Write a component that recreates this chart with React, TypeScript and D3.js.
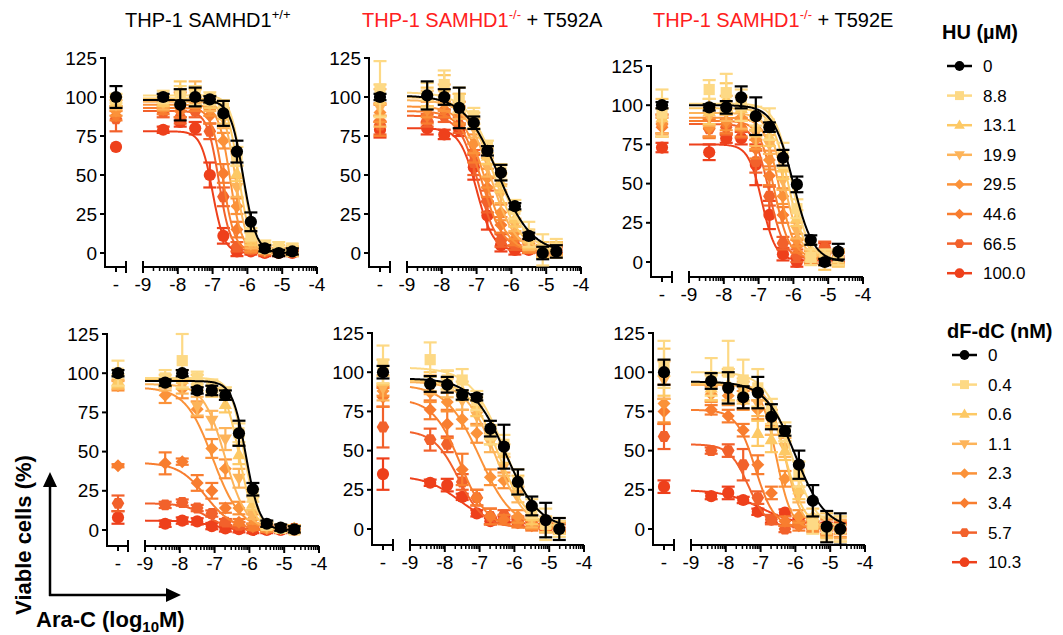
import React from "react";
import * as d3 from "d3";

const FONT = "'Liberation Sans', Arial, Helvetica, sans-serif";

// ---------- shared data ----------
const LOG_CONC = [-8.42, -7.93, -7.5, -7.08, -6.69, -6.3, -5.9, -5.5, -5.1, -4.71];
const X_TICKS = [-9, -8, -7, -6, -5, -4];
const Y_TICKS = [0, 25, 50, 75, 100, 125];
const HU_LABELS = ["0", "8.8", "13.1", "19.9", "29.5", "44.6", "66.5", "100.0"];
const DFDC_LABELS = ["0", "0.4", "0.6", "1.1", "2.3", "3.4", "5.7", "10.3"];
const SERIES_COLORS = ["#000000", "#FDD985", "#FDC965", "#FDB45A", "#FB9239", "#F87D2F", "#F2612B", "#EE401B"];
const SERIES_SHAPES = ["circle", "square", "triangle", "triangleDown", "diamond", "diamond", "hexagon", "circle"];

// ---------- panel 1: THP-1 SAMHD1+/+, HU ----------
const P1_MEAN = [
  [100, 95, 100, 98.5, 89.5, 65, 20, 3, 0, 1],
  [100, 102, 101, 99, 93, 62, 12, 4, 4, 3],
  [97, 104, 100, 97, 88, 51, 9, 3, 2, 1],
  [96, 100, 102, 95, 86, 42, 6, 2, 1, 2],
  [94, 98, 97, 92, 72, 30, 4, 2, 1, 1],
  [92, 91, 95, 88, 51, 15, 3, 1, 1, 1],
  [90, 87, 91, 78, 36, 4, 2, 1, 1, 1],
  [79, 84, 80, 50, 11, 1, 1, 0, 0, 0],
];
const P1_ERR = [
  [2, 10, 6, 2, 8, 7, 6, 2, 2, 2],
  [4, 5, 6, 4, 5, 6, 4, 4, 3, 3],
  [3, 6, 5, 4, 5, 5, 4, 3, 3, 3],
  [4, 5, 8, 4, 6, 6, 3, 2, 2, 2],
  [3, 5, 4, 4, 5, 5, 3, 2, 2, 2],
  [3, 4, 4, 5, 6, 5, 3, 2, 2, 2],
  [3, 4, 4, 5, 6, 3, 2, 2, 2, 2],
  [2, 3, 4, 8, 5, 3, 2, 2, 2, 2],
];
const P1_CTRL = [100, 99, 97, 95, 91, 88, 86, 68];
const P1_CTRL_ERR = [7, 3, 3, 3, 3, 3, 8, 0];
const P1_FIT = [
  [98, 0, -6.12, 2.3], [101, 2, -6.15, 2.6], [99, 1, -6.25, 2.6], [97, 1, -6.35, 2.6],
  [95, 1, -6.5, 2.6], [93, 1, -6.7, 2.6], [91, 1, -6.82, 2.6], [78, 0, -7.0, 2.6],
];

// ---------- panel 2: SAMHD1-/- + T592A, HU ----------
const P2_MEAN = [
  [101, 100, 93, 83.5, 65.5, 51.5, 30, 11, 0, 1],
  [101, 108, 98, 88, 68, 52, 28, 12, 2, 3],
  [100, 106, 96, 85, 62, 45, 22, 9, 2, 2],
  [99, 102, 94, 80, 55, 38, 18, 7, 1, 2],
  [92, 96, 90, 70, 48, 26, 13, 5, 1, 2],
  [88, 92, 88, 64, 42, 18, 9, 4, 2, 3],
  [85, 88, 82, 58, 33, 8, 5, 3, 2, 2],
  [80, 76, 79, 55, 24, 5, 2, 2, 2, 2],
];
const P2_ERR = [
  [9, 5, 13, 4, 3, 5, 2, 2, 4, 4],
  [8, 9, 8, 5, 4, 5, 6, 8, 10, 6],
  [6, 8, 6, 5, 5, 6, 5, 6, 5, 5],
  [5, 6, 8, 6, 6, 6, 4, 5, 4, 4],
  [5, 5, 7, 6, 6, 5, 4, 4, 3, 3],
  [5, 5, 6, 6, 6, 5, 4, 4, 3, 4],
  [4, 4, 5, 8, 7, 4, 3, 3, 3, 3],
  [4, 3, 4, 8, 9, 4, 3, 2, 2, 2],
];
const P2_CTRL = [100, 105, 98, 93, 90, 85, 82, 79];
const P2_CTRL_ERR = [2, 18, 10, 12, 6, 10, 6, 5];
const P2_FIT = [
  [101, 0, -6.38, 0.9], [103, 0, -6.4, 1.0], [100, 0, -6.5, 1.1], [98, 0, -6.6, 1.2],
  [94, 0, -6.75, 1.3], [91, 1, -6.85, 1.4], [88, 1, -6.95, 1.6], [80, 1, -7.0, 1.8],
];

// ---------- panel 3: SAMHD1-/- + T592E, HU ----------
const P3_MEAN = [
  [98.6, 98.6, 105, 93, 86, 66.5, 49.5, 14, 0, 6.6],
  [110, 108, 100, 93, 88, 68, 34, 3, 3, 3],
  [96, 104, 98, 86, 80, 60, 28, 6, 1, 2],
  [93, 98, 95, 82, 75, 52, 20, 4, 2, 3],
  [86, 90, 92, 78, 65, 42, 14, 3, 2, 3],
  [85, 88, 86, 72, 55, 30, 10, 3, 3, 2],
  [85, 86, 85, 64, 42, 12, 4, 3, 9, 4],
  [70, 79, 79, 62, 30, 5, 0, 2, 9, 3],
];
const P3_ERR = [
  [2, 4, 7, 12, 3, 5, 5, 3, 2, 5],
  [6, 12, 10, 6, 10, 8, 6, 5, 5, 5],
  [8, 10, 8, 6, 6, 7, 5, 5, 6, 5],
  [6, 8, 10, 8, 6, 6, 5, 4, 4, 4],
  [6, 6, 8, 6, 6, 5, 4, 4, 4, 4],
  [6, 6, 6, 6, 6, 5, 4, 4, 4, 4],
  [5, 5, 6, 7, 6, 4, 4, 4, 4, 4],
  [5, 3, 4, 13, 9, 4, 3, 3, 3, 3],
];
const P3_CTRL = [100, 95, 92, 90, 88, 86, 88, 73];
const P3_CTRL_ERR = [2, 15, 12, 8, 6, 6, 6, 3];
const P3_FIT = [
  [100, 0, -6.0, 1.5], [101, 2, -6.05, 1.8], [98, 2, -6.15, 1.8], [95, 2, -6.25, 1.8],
  [92, 2, -6.4, 2.0], [90, 2, -6.55, 2.0], [88, 2, -6.7, 2.0], [75, 1, -6.9, 2.2],
];

// ---------- panel 4: THP-1 SAMHD1+/+, dF-dC ----------
const P4_MEAN = [
  [94, 100, 89, 89, 86, 61.7, 26, 4, 1.5, 0.4],
  [97, 108, 97, 92, 87, 62, 22, 3, 1, 0],
  [95, 96, 94, 90, 80, 48, 17, 3, 1, 1],
  [93, 92, 79, 70, 58, 33, 10, 2, 1, 1],
  [86, 90, 77, 52, 39, 14, 7, 1, 1, 1],
  [42.5, 43.6, 30, 25, 14, 5, 2, 1, 1, 1],
  [16, 17.5, 14, 10.5, 5, 3, 2, 1, 1, 1],
  [4, 6, 5.5, 2.5, 1, 0.5, 0, 0, 0, 0],
];
const P4_ERR = [
  [2, 2, 2, 3, 3, 8, 4, 2, 2, 2],
  [5, 17, 4, 4, 4, 6, 4, 2, 2, 2],
  [4, 6, 5, 5, 5, 6, 4, 2, 2, 2],
  [4, 5, 6, 6, 7, 6, 3, 2, 2, 2],
  [5, 6, 5, 6, 6, 4, 3, 2, 2, 2],
  [7, 2, 5, 5, 3, 2, 2, 2, 2, 2],
  [2, 2, 2, 2, 2, 2, 2, 2, 2, 2],
  [2, 2, 2, 2, 2, 2, 2, 2, 2, 2],
];
const P4_CTRL = [100, 100, 95, 93, 92, 41, 17, 8];
const P4_CTRL_ERR = [2, 8, 4, 3, 3, 1, 5, 4];
const P4_FIT = [
  [95, 0, -6.1, 2.2], [97, 0, -6.15, 2.2], [96, 0, -6.3, 2.0], [93, 0, -6.7, 1.4],
  [91, 0, -7.05, 1.1], [43, 0, -7.25, 1.1], [17, 0, -7.2, 1.3], [6, 0, -7.1, 1.3],
];

// ---------- panel 5: SAMHD1-/- + T592A, dF-dC ----------
const P5_MEAN = [
  [92.5, 92, 85.5, 84, 64, 52.5, 30, 14.7, 5.7, 0],
  [108, 95, 95, 82, 60, 54, 30, 13, 3, 0],
  [94, 95, 88, 78, 60, 48, 28, 8, 3, 2],
  [92, 90, 82, 72, 55, 40, 22, 5, 2, 1],
  [87, 81, 70, 61, 33, 31, 8, 3, 1, 1],
  [76, 67, 38, 20, 8, 6, 4, 2, 1, 1],
  [57, 54, 30, 20, 8, 9, 5, 3, 2, 1],
  [29.5, 28, 20.5, 10, 5, 6, 4, 3, 2, 1],
];
const P5_ERR = [
  [5, 5, 3, 2, 5, 14, 8, 6, 11, 7],
  [11, 6, 7, 6, 6, 6, 8, 6, 10, 5],
  [6, 6, 6, 6, 6, 6, 6, 5, 5, 5],
  [6, 6, 6, 6, 6, 6, 5, 4, 4, 4],
  [6, 6, 6, 6, 5, 5, 4, 3, 3, 3],
  [6, 9, 10, 5, 5, 3, 3, 3, 3, 3],
  [7, 5, 5, 5, 5, 3, 3, 3, 3, 3],
  [2, 4, 2, 2, 2, 2, 2, 2, 2, 2],
];
const P5_CTRL = [100, 105, 100, 90, 88, 84, 65, 35];
const P5_CTRL_ERR = [4, 12, 8, 8, 3, 6, 13, 10];
const P5_FIT = [
  [96, 0, -6.25, 0.9], [103, 0, -6.3, 0.9], [95, 0, -6.45, 1.0], [94, 0, -6.55, 1.0],
  [92, 0, -7.0, 0.9], [83, 0, -7.55, 1.1], [63, 1, -7.6, 1.2], [34, 3, -7.6, 0.9],
];

// ---------- panel 6: SAMHD1-/- + T592E, dF-dC ----------
const P6_MEAN = [
  [94.4, 90, 84, 87, 71.6, 62.5, 41, 18, 1.5, 0],
  [97, 100, 95, 90, 75, 62, 35, 3, 0, 0],
  [90, 92, 88, 61, 57, 50, 25, 8, 2, 0],
  [88, 90, 88, 80, 68, 52, 22, 5, 1, 0],
  [86, 85, 82, 76, 66, 32, 8, 2, 1, 0],
  [76, 72, 63, 41, 23, 5, 2, 1, 0, 0],
  [50, 50, 41, 20, 6, 0, 3, 2, 1, 1],
  [21, 23, 18.5, 11, 6, 10.5, 5, 3, 2, 2],
];
const P6_ERR = [
  [5, 10, 7, 10, 8, 3, 9, 10, 10, 10],
  [12, 20, 13, 12, 8, 6, 8, 6, 8, 8],
  [8, 10, 8, 8, 8, 6, 6, 5, 8, 8],
  [6, 8, 6, 8, 8, 6, 5, 4, 6, 6],
  [5, 6, 6, 6, 6, 5, 4, 3, 5, 5],
  [3, 4, 4, 6, 4, 3, 3, 3, 3, 3],
  [2, 4, 10, 4, 3, 2, 2, 2, 2, 2],
  [2, 4, 2, 2, 2, 2, 2, 2, 2, 2],
];
const P6_CTRL = [100, 105, 100, 95, 80, 75, 59, 27];
const P6_CTRL_ERR = [8, 15, 15, 12, 12, 8, 8, 4];
const P6_FIT = [
  [94, 0, -6.0, 1.0], [100, 0, -6.15, 1.2], [93, 0, -6.3, 1.5], [92, 0, -6.3, 1.8],
  [92, 0, -6.55, 2.0], [76, 1, -7.15, 1.6], [54, 1, -7.35, 1.6], [25, 2, -7.0, 0.8],
];

// ---------- layout (positions only) ----------
const LAYOUT = [
  { ax: 105, yZero: 253, yTop: 58, axisY: 267 },
  { ax: 369, yZero: 253, yTop: 58, axisY: 267 },
  { ax: 651, yZero: 262, yTop: 66, axisY: 277 },
  { ax: 107, yZero: 530, yTop: 334, axisY: 546 },
  { ax: 372, yZero: 529, yTop: 333, axisY: 545 },
  { ax: 653, yZero: 529, yTop: 333, axisY: 545 },
];

const PANEL_DATA = [
  { mean: P1_MEAN, err: P1_ERR, ctrl: P1_CTRL, ctrlErr: P1_CTRL_ERR, fit: P1_FIT },
  { mean: P2_MEAN, err: P2_ERR, ctrl: P2_CTRL, ctrlErr: P2_CTRL_ERR, fit: P2_FIT },
  { mean: P3_MEAN, err: P3_ERR, ctrl: P3_CTRL, ctrlErr: P3_CTRL_ERR, fit: P3_FIT },
  { mean: P4_MEAN, err: P4_ERR, ctrl: P4_CTRL, ctrlErr: P4_CTRL_ERR, fit: P4_FIT },
  { mean: P5_MEAN, err: P5_ERR, ctrl: P5_CTRL, ctrlErr: P5_CTRL_ERR, fit: P5_FIT },
  { mean: P6_MEAN, err: P6_ERR, ctrl: P6_CTRL, ctrlErr: P6_CTRL_ERR, fit: P6_FIT },
];

const fourPL = (x: number, p: number[]) => p[1] + (p[0] - p[1]) / (1 + Math.pow(10, (x - p[2]) * p[3]));

function Marker({ shape, cx, cy, color, s = 1 }: { shape: string; cx: number; cy: number; color: string; s?: number }) {
  if (shape === "circle") return <circle cx={cx} cy={cy} r={6.1 * s} fill={color} />;
  if (shape === "square") {
    const h = 5.6 * s;
    return <rect x={cx - h} y={cy - h} width={2 * h} height={2 * h} fill={color} />;
  }
  let pts: [number, number][] = [];
  if (shape === "triangle") {
    const r = 7 * s;
    pts = [[0, -r], [r * 0.95, r * 0.65], [-r * 0.95, r * 0.65]];
  } else if (shape === "triangleDown") {
    const r = 7 * s;
    pts = [[0, r], [r * 0.95, -r * 0.65], [-r * 0.95, -r * 0.65]];
  } else if (shape === "diamond") {
    const r = 6.5 * s;
    pts = [[0, -r], [r, 0], [0, r], [-r, 0]];
  } else if (shape === "hexagon") {
    const r = 6.3 * s;
    pts = d3.range(6).map((i) => [r * Math.cos((i * Math.PI) / 3), r * Math.sin((i * Math.PI) / 3)] as [number, number]);
  }
  return <polygon points={pts.map((p) => `${cx + p[0]},${cy + p[1]}`).join(" ")} fill={color} />;
}

function ErrorBar({ cx, v, e, y, color }: { cx: number; v: number; e: number; y: any; color: string }) {
  if (!e) return null;
  const top = y(v + e);
  const bot = y(v - e);
  const w = 6.5;
  return (
    <g stroke={color} strokeWidth={2.2} fill="none">
      <line x1={cx} x2={cx} y1={top} y2={bot} />
      <line x1={cx - w} x2={cx + w} y1={top} y2={top} />
      <line x1={cx - w} x2={cx + w} y1={bot} y2={bot} />
    </g>
  );
}

function Panel({ lay, data }: { lay: any; data: any }) {
  const x = d3.scaleLinear().domain([-9, -4]).range([lay.ax + 38, lay.ax + 212]);
  const y = d3.scaleLinear().domain([0, 125]).range([lay.yZero, lay.yTop]);
  const ctrlX = lay.ax + 11;
  const segEnd = lay.ax + 21;
  const curveXs = d3.range(-9, -4.55, 0.02);
  const minor: number[] = [];
  for (let d = -9; d < -4; d++) for (let k = 2; k <= 9; k++) minor.push(d + Math.log10(k));
  const order = d3.range(7, -1, -1);
  const ay = lay.axisY;

  return (
    <g>
      <g stroke="#000" strokeWidth={2} fill="none">
        <line x1={lay.ax} x2={lay.ax} y1={y(125) - 1} y2={ay + 1} />
        {Y_TICKS.map((t) => (
          <line key={t} x1={lay.ax - 5} x2={lay.ax} y1={y(t)} y2={y(t)} />
        ))}
        <line x1={lay.ax} x2={segEnd} y1={ay} y2={ay} />
        <line x1={ctrlX} x2={ctrlX} y1={ay} y2={ay + 5} />
        <line x1={segEnd} x2={segEnd} y1={ay - 6} y2={ay + 6} />
        <line x1={x(-9)} x2={x(-4)} y1={ay} y2={ay} />
        <line x1={x(-9)} x2={x(-9)} y1={ay - 6} y2={ay + 6} />
        {X_TICKS.slice(1).map((t) => (
          <line key={t} x1={x(t)} x2={x(t)} y1={ay} y2={ay + 7} />
        ))}
        {minor.map((t, i) => (
          <line key={i} x1={x(t)} x2={x(t)} y1={ay} y2={ay + 4} strokeWidth={1.5} />
        ))}
      </g>
      <g fontFamily={FONT} fontSize={19} fill="#000">
        {Y_TICKS.map((t) => (
          <text key={t} x={lay.ax - 8} y={y(t)} dy="0.35em" textAnchor="end">
            {t}
          </text>
        ))}
        {X_TICKS.map((t) => (
          <text key={t} x={x(t)} y={ay + 24} textAnchor="middle">
            {String(t)}
          </text>
        ))}
        <text x={ctrlX} y={ay + 24} textAnchor="middle">-</text>
      </g>
      {order.map((i) => {
        const color = SERIES_COLORS[i];
        const line = d3
          .line<number>()
          .x((d) => x(d))
          .y((d) => y(fourPL(d, data.fit[i])));
        return (
          <g key={i}>
            <path d={line(curveXs) || ""} fill="none" stroke={color} strokeWidth={2} />
            <ErrorBar cx={ctrlX} v={data.ctrl[i]} e={data.ctrlErr[i]} y={y} color={color} />
            {LOG_CONC.map((c, j) => (
              <ErrorBar key={j} cx={x(c)} v={data.mean[i][j]} e={data.err[i][j]} y={y} color={color} />
            ))}
            <Marker shape={SERIES_SHAPES[i]} cx={ctrlX} cy={y(data.ctrl[i])} color={color} />
            {LOG_CONC.map((c, j) => (
              <Marker key={j} shape={SERIES_SHAPES[i]} cx={x(c)} cy={y(data.mean[i][j])} color={color} />
            ))}
          </g>
        );
      })}
    </g>
  );
}

function Legend({ title, labels, x0, titleY, y0 }: { title: string; labels: string[]; x0: number; titleY: number; y0: number }) {
  return (
    <g fontFamily={FONT}>
      <text x={x0 - 5} y={titleY} fontSize={20} fontWeight="bold">
        {title}
      </text>
      {labels.map((lab, i) => {
        const yy = y0 + i * 29.6;
        return (
          <g key={lab}>
            <line x1={x0} x2={x0 + 25} y1={yy} y2={yy} stroke={SERIES_COLORS[i]} strokeWidth={2.5} />
            <Marker shape={SERIES_SHAPES[i]} cx={x0 + 12.5} cy={yy} color={SERIES_COLORS[i]} s={0.8} />
            <text x={x0 + 36} y={yy} dy="0.35em" fontSize={17}>
              {lab}
            </text>
          </g>
        );
      })}
    </g>
  );
}

function Title({ x, y, ko, suffix }: { x: number; y: number; ko: boolean; suffix?: string }) {
  const c = ko ? "#FF2020" : "#000";
  return (
    <text x={x} y={y} fontFamily={FONT} fontSize={20} fill={c}>
      THP-1 SAMHD1
      <tspan fontSize={13} dy={-8}>
        {ko ? "-/-" : "+/+"}
      </tspan>
      {suffix ? (
        <tspan dy={8} fill="#000">
          {" + " + suffix}
        </tspan>
      ) : null}
    </text>
  );
}

export default function App() {
  return (
    <svg width={1063} height={635} style={{ position: "absolute", left: 0, top: 0, background: "#fff" }}>
      <rect width={1063} height={635} fill="#fff" />
      <Title x={125} y={27} ko={false} />
      <Title x={362} y={27} ko={true} suffix="T592A" />
      <Title x={653} y={27} ko={true} suffix="T592E" />
      {LAYOUT.map((lay, i) => (
        <Panel key={i} lay={lay} data={PANEL_DATA[i]} />
      ))}
      <Legend title="HU (µM)" labels={HU_LABELS} x0={947} titleY={39} y0={66} />
      <Legend title="dF-dC (nM)" labels={DFDC_LABELS} x0={952} titleY={338} y0={355} />
      <g stroke="#000" strokeWidth={2.5}>
        <line x1={50} x2={50} y1={596} y2={486} />
        <line x1={49} x2={168} y1={595} y2={595} />
      </g>
      <polygon points="50,472 43,487 57,487" fill="#000" />
      <polygon points="181,595 166,588 166,602" fill="#000" />
      <text
        transform="translate(31,535) rotate(-90)"
        textAnchor="middle"
        fontFamily={FONT}
        fontSize={22}
        fontWeight="bold"
      >
        Viable cells (%)
      </text>
      <text x={36} y={627} fontFamily={FONT} fontSize={22} fontWeight="bold">
        Ara-C (log
        <tspan fontSize={15} dy={5}>
          10
        </tspan>
        <tspan dy={-5}>M)</tspan>
      </text>
    </svg>
  );
}
